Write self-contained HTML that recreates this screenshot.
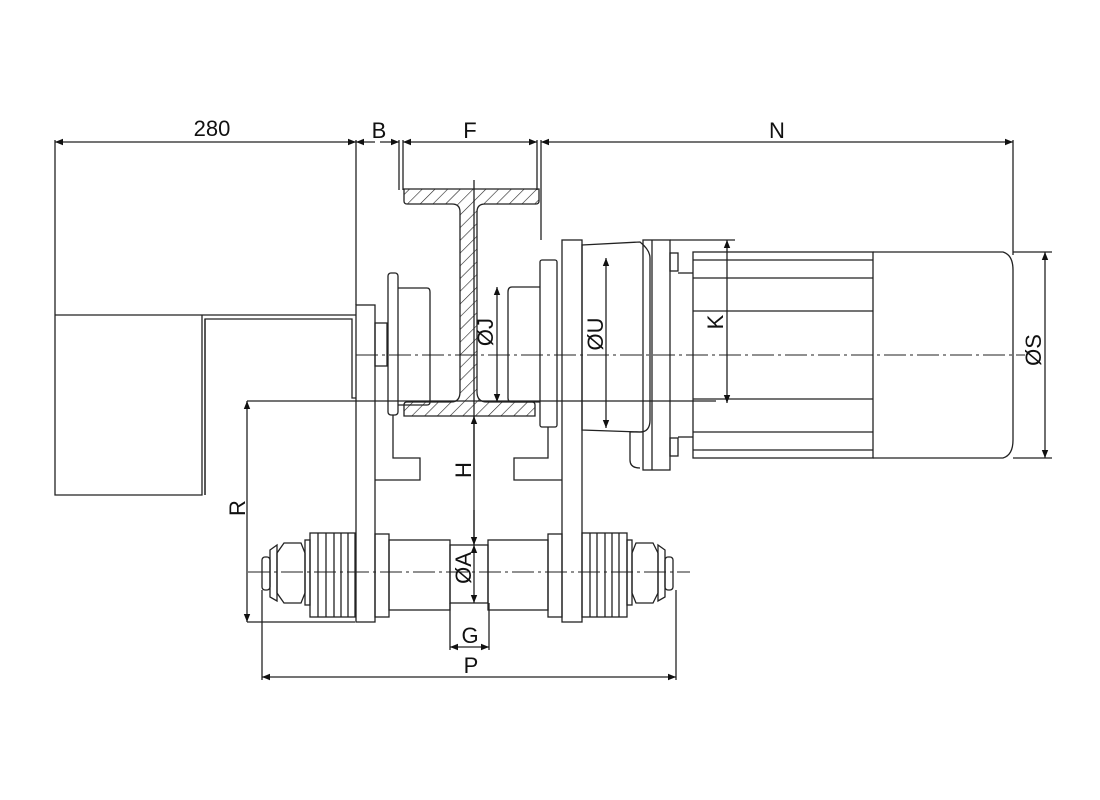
<!DOCTYPE html>
<html><head><style>html,body{margin:0;background:#fff}svg{display:block}text{font-family:"Liberation Sans",sans-serif;font-size:22px;fill:#111}</style></head><body>
<svg width="1100" height="800" viewBox="0 0 1100 800" xmlns="http://www.w3.org/2000/svg">
<defs>
<pattern id="h" patternUnits="userSpaceOnUse" width="9" height="9" patternTransform="rotate(45)"><line x1="0" y1="0" x2="0" y2="9" stroke="#222" stroke-width="1.2"/></pattern>
<marker id="a" viewBox="0 0 10 10" refX="10" refY="5" markerWidth="16" markerHeight="8" orient="auto-start-reverse" markerUnits="userSpaceOnUse"><path d="M0,1L10,5L0,9z" fill="#111"/></marker>
</defs>
<g fill="none" stroke="#222" stroke-width="1.3">
<path d="M55,315H356 M55,315V495H202V315 M205,495V319H352V398H356"/>
<line x1="205" y1="319" x2="205" y2="495"/>
<line x1="55" y1="140" x2="55" y2="315"/>
<line x1="356" y1="140" x2="356" y2="305"/>
<line x1="399" y1="140" x2="399" y2="190"/>
<line x1="403" y1="140" x2="403" y2="190"/>
<line x1="537" y1="140" x2="537" y2="190"/>
<line x1="541" y1="140" x2="541" y2="240"/>
<line x1="1013" y1="140" x2="1013" y2="255"/>
<path d="M404,189H539V201Q539,204 536,204H485Q477,204 477,212V392Q477,402 487,402H532Q535,402 535,405V416H404V405Q404,402 407,402H451Q460,402 460,392V212Q460,204 452,204H407Q404,204 404,201Z" fill="url(#h)"/>
<rect x="356" y="305" width="19" height="317"/>
<rect x="375" y="323" width="12" height="43"/>
<rect x="388" y="273" width="10" height="142" rx="3"/>
<path d="M398,288H427Q430,288 430,292V402Q430,405 427,405H398"/>
<path d="M393,415V458H420V480H375"/>
<path d="M540,287H512Q508,287 508,292V398Q508,402 512,402H540"/>
<rect x="540" y="260" width="17" height="167" rx="2"/>
<rect x="562" y="240" width="20" height="382"/>
<path d="M548,427V458H514V480H562"/>
<path d="M582,245L640,242Q650,250 650,258V420Q650,432 640,432L582,430Z"/>
<rect x="643" y="240" width="27" height="230"/>
<line x1="652" y1="240" x2="652" y2="470"/>
<path d="M643,432H630V460Q630,468 640,468"/>
<rect x="670" y="253" width="8" height="18"/><rect x="670" y="438" width="8" height="18"/>
<rect x="693" y="252" width="180" height="206"/>
<path d="M873,252H1003Q1013,255 1013,270V440Q1013,455 1003,458H873"/>
<path d="M693,260H873M693,278H873M693,311H873M693,399H873M693,432H873M693,450H873"/>
<line x1="678" y1="273" x2="693" y2="273"/><line x1="678" y1="437" x2="693" y2="437"/>
<rect x="262" y="557" width="8" height="33" rx="3"/>
<path d="M270,550L277,545V601L270,597Z"/>
<path d="M284,543H301L305,553V593L301,603H284L277,593V553Z"/>
<rect x="305" y="540" width="5" height="65"/>
<rect x="310" y="533" width="45" height="84"/>
<path d="M318,533V617M326,533V617M334,533V617M341,533V617M348,533V617"/>
<rect x="375" y="534" width="14" height="83"/>
<rect x="389" y="540" width="61" height="70"/>
<rect x="450" y="545" width="38" height="58"/>
<rect x="488" y="540" width="60" height="70"/>
<rect x="548" y="534" width="14" height="83"/>
<rect x="582" y="533" width="45" height="84"/>
<path d="M590,533V617M597,533V617M605,533V617M612,533V617M619,533V617"/>
<rect x="627" y="540" width="5" height="65"/>
<path d="M636,543H653L658,553V593L653,603H636L632,593V553Z"/>
<path d="M665,550L658,545V601L665,597Z"/>
<rect x="665" y="557" width="8" height="33" rx="3"/>
<line x1="55" y1="142" x2="356" y2="142" marker-start="url(#a)" marker-end="url(#a)"/>
<line x1="356" y1="142" x2="375" y2="142" marker-start="url(#a)"/>
<line x1="380" y1="142" x2="399" y2="142" marker-end="url(#a)"/>
<line x1="403" y1="142" x2="537" y2="142" marker-start="url(#a)" marker-end="url(#a)"/>
<line x1="541" y1="142" x2="1013" y2="142" marker-start="url(#a)" marker-end="url(#a)"/>
<line x1="247" y1="401" x2="716" y2="401"/>
<line x1="247" y1="401" x2="247" y2="622" marker-start="url(#a)" marker-end="url(#a)"/>
<line x1="247" y1="622" x2="355" y2="622"/>
<line x1="474" y1="180" x2="474" y2="545"/>
<line x1="474" y1="416" x2="474" y2="480" marker-start="url(#a)"/>
<line x1="474" y1="545" x2="474" y2="603" marker-start="url(#a)" marker-end="url(#a)"/>
<line x1="474" y1="510" x2="474" y2="545" marker-end="url(#a)"/>
<line x1="497" y1="287" x2="497" y2="402" marker-start="url(#a)" marker-end="url(#a)"/>
<line x1="606" y1="258" x2="606" y2="428" marker-start="url(#a)" marker-end="url(#a)"/>
<line x1="727" y1="240" x2="727" y2="403" marker-start="url(#a)" marker-end="url(#a)"/>
<line x1="670" y1="240" x2="735" y2="240"/>
<line x1="1013" y1="252" x2="1052" y2="252"/><line x1="1013" y1="458" x2="1052" y2="458"/>
<line x1="1045" y1="252" x2="1045" y2="458" marker-start="url(#a)" marker-end="url(#a)"/>
<line x1="450" y1="603" x2="450" y2="650"/><line x1="489" y1="603" x2="489" y2="650"/>
<line x1="450" y1="647" x2="470" y2="647" marker-start="url(#a)"/>
<line x1="470" y1="647" x2="489" y2="647" marker-end="url(#a)"/>
<line x1="262" y1="590" x2="262" y2="680"/><line x1="676" y1="590" x2="676" y2="680"/>
<line x1="262" y1="677" x2="676" y2="677" marker-start="url(#a)" marker-end="url(#a)"/>
</g>
<g stroke="#222" stroke-width="1" stroke-dasharray="22,4,3,4" fill="none">
<line x1="356" y1="355" x2="1025" y2="355"/>
<line x1="248" y1="572" x2="690" y2="572"/>
</g>
<text x="212" y="136" text-anchor="middle">280</text>
<text x="379" y="138" text-anchor="middle">B</text>
<text x="470" y="138" text-anchor="middle">F</text>
<text x="777" y="138" text-anchor="middle">N</text>
<text x="470" y="643" text-anchor="middle">G</text>
<text x="471" y="673" text-anchor="middle">P</text>
<text transform="translate(245,508) rotate(-90)" text-anchor="middle">R</text>
<text transform="translate(471,470) rotate(-90)" text-anchor="middle">H</text>
<text transform="translate(471,568) rotate(-90)" text-anchor="middle">ØA</text>
<text transform="translate(493,332) rotate(-90)" text-anchor="middle">ØJ</text>
<text transform="translate(603,334) rotate(-90)" text-anchor="middle">ØU</text>
<text transform="translate(723,322) rotate(-90)" text-anchor="middle">K</text>
<text transform="translate(1041,350) rotate(-90)" text-anchor="middle">ØS</text>
</svg>
</body></html>
